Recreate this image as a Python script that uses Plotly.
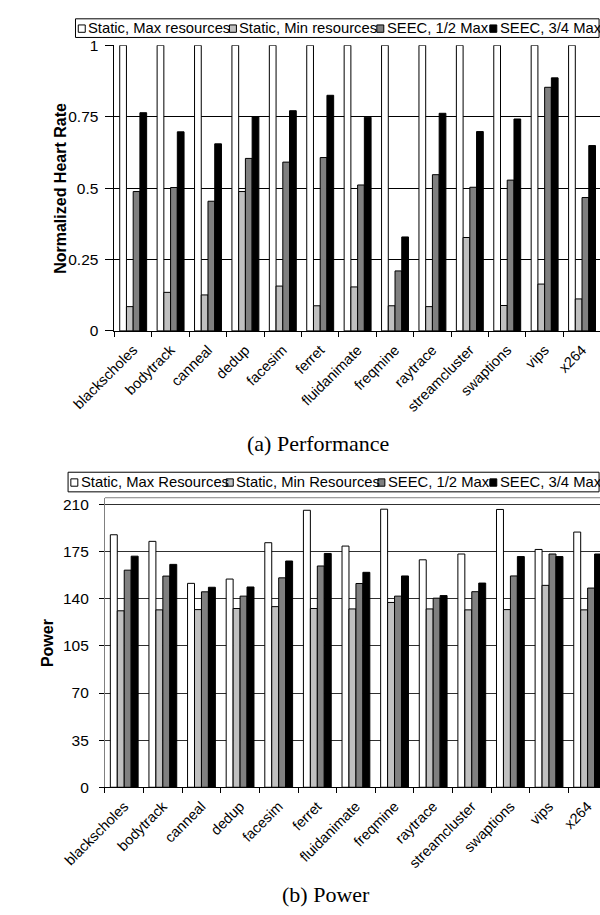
import plotly.graph_objects as go

# ---------------- data ----------------
categories = ["blackscholes", "bodytrack", "canneal", "dedup", "facesim", "ferret",
              "fluidanimate", "freqmine", "raytrace", "streamcluster", "swaptions",
              "vips", "x264"]

perf_names = ["Static, Max resources", "Static, Min resources", "SEEC, 1/2 Max", "SEEC, 3/4 Max"]
power_names = ["Static, Max Resources", "Static, Min Resources", "SEEC, 1/2 Max", "SEEC, 3/4 Max"]

perf_static_max = [1, 1, 1, 1, 1, 1, 1, 1, 1, 1, 1, 1, 1]
perf_static_min = [0.085, 0.135, 0.126, 0.488, 0.157, 0.088, 0.154, 0.088, 0.085, 0.327, 0.089, 0.164, 0.112]
perf_seec_half = [0.488, 0.502, 0.454, 0.604, 0.591, 0.607, 0.511, 0.210, 0.547, 0.503, 0.528, 0.853, 0.467]
perf_seec_3q = [0.764, 0.697, 0.655, 0.749, 0.771, 0.825, 0.748, 0.329, 0.762, 0.698, 0.742, 0.886, 0.649]

power_static_max = [187.6, 182.7, 151.5, 154.7, 181.7, 205.8, 179.2, 206.6, 169.0, 173.3, 206.4, 176.7, 189.6]
power_static_min = [131.1, 131.8, 132.0, 132.8, 134.2, 132.8, 132.5, 137.3, 132.5, 131.8, 132.0, 150.0, 131.8]
power_seec_half = [161.3, 156.9, 145.2, 142.0, 155.6, 164.4, 151.4, 142.0, 140.5, 145.3, 157.0, 173.3, 148.0]
power_seec_3q = [171.7, 165.6, 148.6, 148.8, 168.1, 173.7, 159.7, 157.0, 142.4, 151.7, 171.4, 171.4, 173.3]

perf_ticks = [0, 0.25, 0.5, 0.75, 1]
perf_tick_text = ["0", "0.25", "0.5", "0.75", "1"]
power_ticks = [0, 35, 70, 105, 140, 175, 210]

colors = ["#FFFFFF", "#C0C0C0", "#808080", "#000000"]

W, H = 600, 915
def px(x):
    return x / W
def py(y):
    return 1 - y / H

SANS = "Liberation Sans, Arial, sans-serif"
SERIF = "Liberation Serif, Times New Roman, serif"

fig = go.Figure()

perf = [perf_static_max, perf_static_min, perf_seec_half, perf_seec_3q]
for name, vals, col in zip(perf_names, perf, colors):
    fig.add_bar(x=categories, y=vals, name=name, xaxis="x", yaxis="y", showlegend=False,
                marker=dict(color=col, line=dict(color="#000000", width=1)))

power = [power_static_max, power_static_min, power_seec_half, power_seec_3q]
for name, vals, col in zip(power_names, power, colors):
    fig.add_bar(x=categories, y=vals, name=name, xaxis="x2", yaxis="y2", showlegend=False,
                marker=dict(color=col, line=dict(color="#000000", width=1)))

common_x = dict(type="category", tickson="boundaries", ticks="outside", ticklen=5,
                tickcolor="#000000", showline=True, linecolor="#000000", linewidth=1,
                tickangle=-45, ticklabelstandoff=4,
                tickfont=dict(family=SANS, size=14.5, color="#000000"),
                showgrid=False, zeroline=False)

fig.update_layout(
    width=W, height=H, margin=dict(l=0, r=0, t=0, b=0),
    font=dict(family=SANS, color="#000000"),
    paper_bgcolor="white", plot_bgcolor="white",
    barmode="group", bargap=0.28, bargroupgap=0,
    xaxis=dict(domain=[px(77), 1], range=[-0.5, 12.48], anchor="y", **common_x),
    yaxis=dict(domain=[py(328), py(37)], range=[0, 1], anchor="x",
               tickvals=perf_ticks, ticktext=perf_tick_text,
               showgrid=True, gridcolor="#000000", gridwidth=1, zeroline=False,
               showline=True, linecolor="#000000", ticks="outside", ticklen=8,
               tickcolor="#000000", ticklabelstandoff=4,
               tickfont=dict(family=SANS, size=15.5, color="#000000")),
    xaxis2=dict(domain=[px(66.7), 1], range=[-0.5, 12.32], anchor="y2", **common_x),
    yaxis2=dict(domain=[py(793), py(498)], range=[0, 215.1], anchor="x2",
                tickvals=power_ticks, showgrid=True, gridcolor="#303030", gridwidth=1,
                zeroline=False, showline=True, linecolor="#808080", ticks="outside",
                ticklen=5, tickcolor="#000000", ticklabelstandoff=7,
                tickfont=dict(family=SANS, size=15.5, color="#000000")),
)

shapes = []
annotations = []

# top border of power plot
shapes.append(dict(type="line", xref="paper", yref="paper", x0=px(66.7), x1=1,
                   y0=py(498), y1=py(498), line=dict(color="#808080", width=1)))

# axis titles
annotations.append(dict(text="Normalized Heart Rate", xref="paper", yref="paper",
                        x=px(18), y=py(182.5), textangle=-90, showarrow=False,
                        xanchor="center", yanchor="middle",
                        font=dict(family=SANS, size=16, color="#000000", weight="bold")))
annotations.append(dict(text="Power", xref="paper", yref="paper",
                        x=px(5.5), y=py(646), textangle=-90, showarrow=False,
                        xanchor="center", yanchor="middle",
                        font=dict(family=SANS, size=16, color="#000000", weight="bold")))

# captions
annotations.append(dict(text="(a) Performance", xref="paper", yref="paper",
                        x=px(296), y=py(443), showarrow=False, xanchor="center", yanchor="middle",
                        font=dict(family=SERIF, size=22, color="#000000")))
annotations.append(dict(text="(b) Power", xref="paper", yref="paper",
                        x=px(305), y=py(902), showarrow=False, xanchor="center", yanchor="middle",
                        font=dict(family=SERIF, size=22, color="#000000")))

# Arial advance widths (em) for legend layout
AW = {"S": .667, "t": .278, "a": .556, "i": .222, "c": .5, ",": .278, " ": .278,
      "M": .833, "x": .5, "r": .333, "e": .556, "s": .5, "o": .556, "u": .556,
      "n": .556, "R": .722, "E": .667, "C": .722, "1": .556, "2": .556, "3": .556,
      "4": .556, "/": .278}

def text_w(s, size):
    return sum(AW.get(ch, .556) for ch in s) * size

LEG_FONT = 14.8
SYM = 7.5

def legend(names, box):
    bx0, bx1, by0, by1 = box
    shapes.append(dict(type="rect", xref="paper", yref="paper", x0=px(bx0), x1=px(bx1),
                       y0=py(by0), y1=py(by1), line=dict(color="#000000", width=1),
                       fillcolor="rgba(0,0,0,0)"))
    cy = (by0 + by1) / 2
    widths = [text_w(n, LEG_FONT) for n in names]
    fixed = 3 + len(names) * (SYM + 3) + 6
    gap = (bx1 - bx0 - fixed - sum(widths)) / (len(names) - 1)
    x = bx0 + 3
    for name, col, w in zip(names, colors, widths):
        shapes.append(dict(type="rect", xref="paper", yref="paper", x0=px(x), x1=px(x + SYM),
                           y0=py(cy - SYM / 2 + 0.5), y1=py(cy + SYM / 2 + 0.5),
                           line=dict(color="#000000", width=1), fillcolor=col))
        annotations.append(dict(text=name, xref="paper", yref="paper", x=px(x + SYM + 1),
                                y=py(cy), showarrow=False, xanchor="left", yanchor="middle",
                                font=dict(family=SANS, size=LEG_FONT, color="#000000")))
        x += SYM + 3 + w + gap

legend(perf_names, (35, 599, 10, 29))
legend(power_names, (27, 599, 472, 492))

fig.update_layout(shapes=shapes, annotations=annotations)

fig.write_html("out.html", config={"displayModeBar": False},
               post_script="document.body.style.margin='0';")
